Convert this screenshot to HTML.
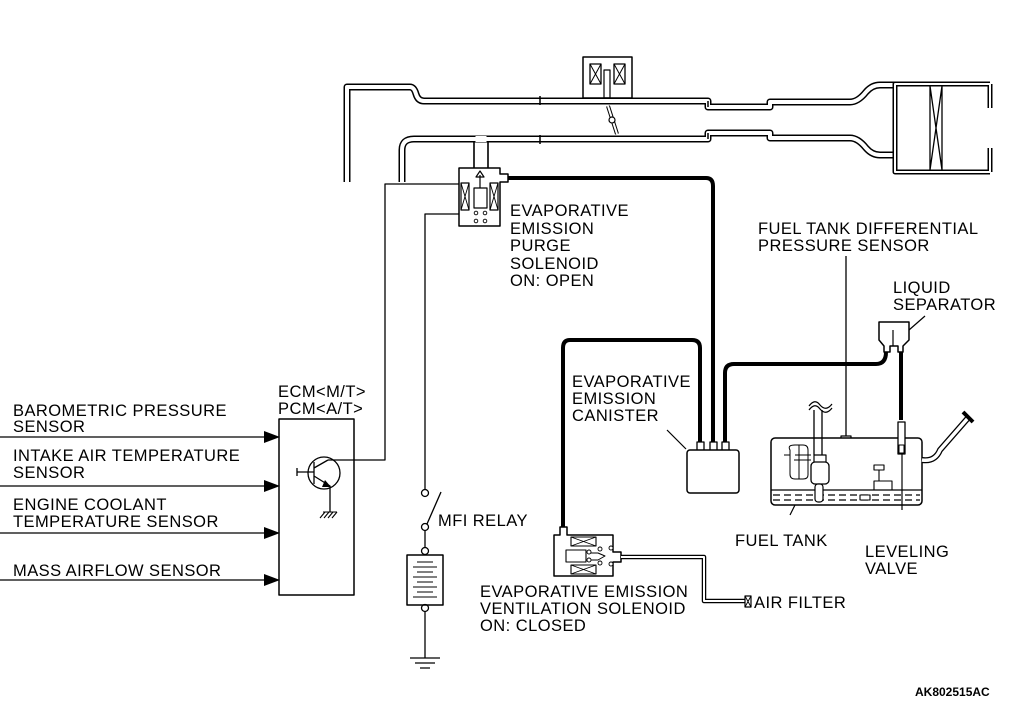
<!DOCTYPE html>
<html><head><meta charset="utf-8"><style>
html,body{margin:0;padding:0;background:#fff}
svg{display:block}
text{font-family:"Liberation Sans",Arial,sans-serif;font-size:16.5px;letter-spacing:0.45px;fill:#000}
</style></head><body>
<svg width="1010" height="707" viewBox="0 0 1010 707" xmlns="http://www.w3.org/2000/svg">
<g fill="none" stroke-linejoin="round">
<g>
<path d="M347,182 V87 H410 Q414,87 416,94 Q418,101 424,101 H708 V107 H770 V102 H850 Q858,102 866,92 Q872,85 880,85 H897" stroke="#000" stroke-width="7"/>
<path d="M402,182 V150 Q402,139 414,139 H708 V133 H770 V138 H850 Q858,138 866,148 Q872,155 880,155 H897" stroke="#000" stroke-width="7"/>
<path d="M474,140 V170 M488,140 V170" stroke="#000" stroke-width="1.6"/>
<path d="M347,182 V87 H410 Q414,87 416,94 Q418,101 424,101 H708 V107 H770 V102 H850 Q858,102 866,92 Q872,85 880,85 H897" stroke="#fff" stroke-width="4"/>
<path d="M402,182 V150 Q402,139 414,139 H708 V133 H770 V138 H850 Q858,138 866,148 Q872,155 880,155 H897" stroke="#fff" stroke-width="4"/>
<rect x="475.5" y="136" width="11" height="6" fill="#fff" stroke="none"/>
<path d="M540,96 V105 M540,135 V144 M708,101 V107 M708,133 V139" stroke="#000" stroke-width="1.5"/>
</g>
<path d="M990,84 H895 V172 H990 M990,84 V108 M990,172 V148" stroke="#000" stroke-width="5"/>
<path d="M990,84 H895 V172 H990 M990,84 V108 M990,172 V148" stroke="#fff" stroke-width="2"/>
<path d="M930,86 V170 M942,86 V170 M930,86 L942,170 M942,86 L930,170" stroke="#000" stroke-width="1.3"/>
<rect x="583" y="57" width="49" height="41" fill="#fff" stroke="#000" stroke-width="1.5"/>
<rect x="590" y="64" width="11" height="20" stroke="#000" stroke-width="1.3"/>
<path d="M590,64 L601,84 M601,64 L590,84" stroke="#000" stroke-width="1"/>
<rect x="614" y="64" width="11" height="20" stroke="#000" stroke-width="1.3"/>
<path d="M614,64 L625,84 M625,64 L614,84" stroke="#000" stroke-width="1"/>
<rect x="604" y="70" width="6" height="28" stroke="#000" stroke-width="1.2"/>
<path d="M608,106 L617,134" stroke="#000" stroke-width="4"/>
<path d="M608,106 L617,134" stroke="#fff" stroke-width="2"/>
<circle cx="612" cy="120" r="3" fill="#fff" stroke="#000" stroke-width="1.2"/>
<path d="M459,168 H500 V174 H508 V182 H500 V226 H459 Z" fill="#fff" stroke="#000" stroke-width="1.5"/>
<rect x="461" y="183" width="8" height="27" stroke="#000" stroke-width="1.2"/>
<path d="M461,183 L469,210 M469,183 L461,210" stroke="#000" stroke-width="0.9"/>
<rect x="490" y="183" width="8" height="27" stroke="#000" stroke-width="1.2"/>
<path d="M490,183 L498,210 M498,183 L490,210" stroke="#000" stroke-width="0.9"/>
<rect x="474" y="188" width="13" height="20" stroke="#000" stroke-width="1.2"/>
<path d="M480,188 V175 M476,177 L480,171 L484,177 Z" stroke="#000" stroke-width="1.2"/>
<g fill="#fff" stroke="#000" stroke-width="0.9"><circle cx="476" cy="213" r="1.8"/><circle cx="485" cy="213" r="1.8"/><circle cx="476" cy="221" r="1.8"/><circle cx="485" cy="221" r="1.8"/></g>
<path d="M508,178 H706 Q713,178 713,186 V448" stroke="#000" stroke-width="4"/>
<path d="M700,448 V348 Q700,340 692,340 H570 Q563,340 563,348 V527" stroke="#000" stroke-width="4"/>
<path d="M725,448 V373 Q725,364 734,364 H876 Q886,364 886,352" stroke="#000" stroke-width="4"/>
<path d="M901,352 V420" stroke="#000" stroke-width="4"/>
<path d="M697,450 V442 H704 V450 M710,450 V442 H717 V450 M722,450 V442 H729 V450" stroke="#000" stroke-width="1.3" fill="#fff"/>
<rect x="687" y="450" width="52" height="43" rx="3" fill="#fff" stroke="#000" stroke-width="1.5"/>
<path d="M667,430 L686,449" stroke="#000" stroke-width="1.2"/>
<path d="M879,322 H909 V340 L903,346 V352 H898 V346 H890 V352 H884 V346 L879,340 Z" fill="#fff" stroke="#000" stroke-width="1.5"/>
<path d="M893,330 V346" stroke="#000" stroke-width="1.2"/>
<path d="M909,330 L925,316" stroke="#000" stroke-width="1.2"/>
<path d="M846,256 V436" stroke="#000" stroke-width="1.3"/>
<rect x="841" y="436" width="10" height="5" fill="#fff" stroke="#000" stroke-width="1.2"/>
<rect x="771" y="438" width="151" height="67" rx="4" fill="#fff" stroke="#000" stroke-width="1.5"/>
<path d="M771,490 H922" stroke="#000" stroke-width="1.2"/>
<path d="M773,495 H920 M773,500 H920" stroke="#000" stroke-width="1.2" stroke-dasharray="7,4"/>
<rect x="860" y="495" width="10" height="5" fill="#fff" stroke="#000" stroke-width="1.1"/>
<rect x="874" y="465" width="10" height="5" stroke="#000" stroke-width="1.1"/>
<path d="M879,470 V481" stroke="#000" stroke-width="1.1"/>
<rect x="874" y="481" width="18" height="9" stroke="#000" stroke-width="1.1"/>
<rect x="898" y="422" width="7" height="32" fill="#fff" stroke="#000" stroke-width="1.3"/>
<rect x="899" y="445" width="5" height="8" stroke="#000" stroke-width="1"/>
<path d="M902,454 V510" stroke="#000" stroke-width="1.2"/>
<path d="M922,460 Q935,462 940,450 L968,418" stroke="#000" stroke-width="6"/>
<path d="M922,460 Q935,462 940,450 L968,418" stroke="#fff" stroke-width="3.5"/>
<path d="M963,412 L973,422" stroke="#000" stroke-width="4"/>
<path d="M814,410 V455 M822,410 V455" stroke="#000" stroke-width="1.3"/>
<path d="M809,406 Q815,398 820,405 Q826,412 832,404 M809,410 Q815,402 820,409 Q826,416 832,408" stroke="#000" stroke-width="1.2"/>
<rect x="811" y="462" width="18" height="22" rx="4" fill="#fff" stroke="#000" stroke-width="1.3"/>
<path d="M814,455 H826 V462 M814,455 V462" stroke="#000" stroke-width="1.2"/>
<rect x="815" y="484" width="8" height="18" rx="3" fill="#fff" stroke="#000" stroke-width="1.2"/>
<path d="M790,450 Q787,445 795,445 H803 Q808,445 808,450 V475 Q808,479 803,479 H795 Q790,479 790,474 Z M784,455 H790 M795,455 H811 M794,460 H811 M799,445 V479" stroke="#000" stroke-width="1"/>
<path d="M795,505 L790,515" stroke="#000" stroke-width="1.2"/>
<path d="M560,535 V527 H567 V535 H613 V552 H621 V562 H613 V576 H554 V535 Z" fill="#fff" stroke="#000" stroke-width="1.5"/>
<rect x="571" y="537" width="25" height="9" stroke="#000" stroke-width="1.1"/>
<path d="M571,537 L596,546 M596,537 L571,546" stroke="#000" stroke-width="0.9"/>
<rect x="571" y="565" width="25" height="9" stroke="#000" stroke-width="1.1"/>
<path d="M571,565 L596,574 M596,565 L571,574" stroke="#000" stroke-width="0.9"/>
<rect x="566" y="550" width="20" height="12" stroke="#000" stroke-width="1.1"/>
<path d="M588,553 H598 L605,556 L598,560 H588" stroke="#000" stroke-width="1"/>
<g fill="#fff" stroke="#000" stroke-width="0.9"><circle cx="589" cy="552" r="2"/><circle cx="589" cy="560" r="2"/><circle cx="600" cy="549" r="2"/><circle cx="600" cy="563" r="2"/><circle cx="611" cy="548" r="2"/><circle cx="611" cy="564" r="2"/></g>
<path d="M621,557 H704 V601 H745" stroke="#000" stroke-width="4.5"/>
<path d="M621,557 H704 V601 H745" stroke="#fff" stroke-width="2"/>
<rect x="745" y="596" width="6" height="11" fill="#fff" stroke="#000" stroke-width="1.2"/>
<path d="M745,596 L751,607 M751,596 L745,607" stroke="#000" stroke-width="0.9"/>
<rect x="279" y="419" width="75" height="176" stroke="#000" stroke-width="1.5"/>
<path d="M0,437 H268 M0,486 H268 M0,533 H268 M0,580 H268" stroke="#000" stroke-width="1.3"/>
<path d="M264,431 L280,437 L264,443 Z M264,480 L280,486 L264,492 Z M264,527 L280,533 L264,539 Z M264,574 L280,580 L264,586 Z" fill="#000"/>
<circle cx="324" cy="473" r="16" stroke="#000" stroke-width="1.3"/>
<path d="M297,472 H314 M297,468 V476 M314,462 V484 M314,468 L328,460 M314,476 L330,486 V512" stroke="#000" stroke-width="1.3"/>
<path d="M325,480 L331,487 L322,487 Z" fill="#000"/>
<path d="M323,512 H337 M325,512 L320,518 M329,512 L324,518 M333,512 L328,518 M337,512 L332,518" stroke="#000" stroke-width="1.1"/>
<path d="M328,460 H385 V184 H459" stroke="#000" stroke-width="1.3"/>
<path d="M425,492 V214 H459" stroke="#000" stroke-width="1.3"/>
<circle cx="425" cy="493" r="3.5" fill="#fff" stroke="#000" stroke-width="1.3"/>
<path d="M427,524 L441,492" stroke="#000" stroke-width="1.3"/>
<circle cx="425" cy="527" r="3.5" fill="#fff" stroke="#000" stroke-width="1.3"/>
<path d="M425,531 V547 M425,610 V658" stroke="#000" stroke-width="1.3"/>
<circle cx="425" cy="551" r="3.5" fill="#fff" stroke="#000" stroke-width="1.3"/>
<circle cx="425" cy="608" r="3.5" fill="#fff" stroke="#000" stroke-width="1.3"/>
<rect x="407" y="555" width="36" height="50" stroke="#000" stroke-width="1.5"/>
<path d="M417,562 H433 M413,567 H437 M417,572 H433 M413,577 H437 M417,582 H433 M413,587 H437 M417,592 H433 M413,597 H437" stroke="#000" stroke-width="1.1"/>
<path d="M410,658 H440 M415,663 H435 M420,668 H430" stroke="#000" stroke-width="1.3"/>
</g>
<text x="510" y="216">EVAPORATIVE</text>
<text x="510" y="234">EMISSION</text>
<text x="510" y="251">PURGE</text>
<text x="510" y="269">SOLENOID</text>
<text x="510" y="286">ON: OPEN</text>
<text x="758" y="234">FUEL TANK DIFFERENTIAL</text>
<text x="758" y="251">PRESSURE SENSOR</text>
<text x="893" y="293">LIQUID</text>
<text x="893" y="310">SEPARATOR</text>
<text x="572" y="387">EVAPORATIVE</text>
<text x="572" y="404">EMISSION</text>
<text x="572" y="421">CANISTER</text>
<text x="278" y="397">ECM&lt;M/T&gt;</text>
<text x="278" y="414">PCM&lt;A/T&gt;</text>
<text x="13" y="416">BAROMETRIC PRESSURE</text>
<text x="13" y="432">SENSOR</text>
<text x="13" y="461">INTAKE AIR TEMPERATURE</text>
<text x="13" y="478">SENSOR</text>
<text x="13" y="510">ENGINE COOLANT</text>
<text x="13" y="527">TEMPERATURE SENSOR</text>
<text x="13" y="576">MASS AIRFLOW SENSOR</text>
<text x="438" y="526">MFI RELAY</text>
<text x="735" y="546">FUEL TANK</text>
<text x="865" y="557">LEVELING</text>
<text x="865" y="574">VALVE</text>
<text x="480" y="597">EVAPORATIVE EMISSION</text>
<text x="480" y="614">VENTILATION SOLENOID</text>
<text x="480" y="631">ON: CLOSED</text>
<text x="754" y="608">AIR FILTER</text>
<text x="915" y="696" style="font-weight:bold;font-size:12px;letter-spacing:0">AK802515AC</text>
</svg>
</body></html>
